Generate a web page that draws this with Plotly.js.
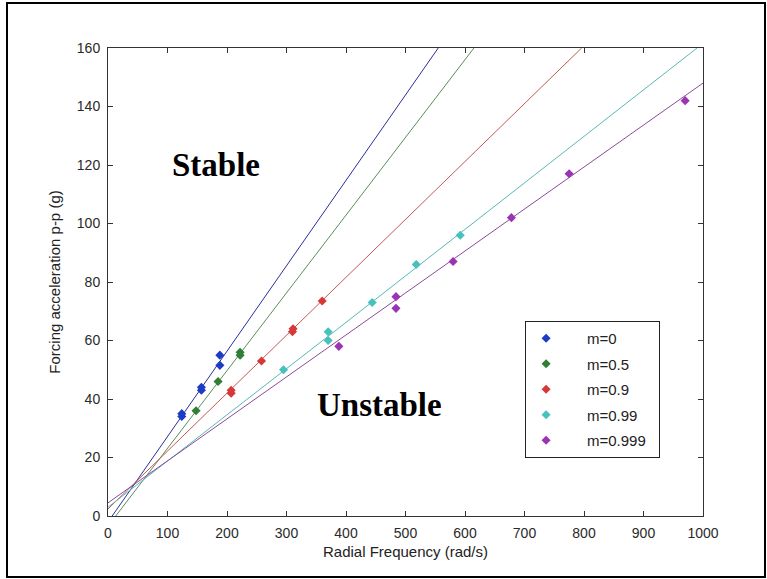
<!DOCTYPE html>
<html>
<head>
<meta charset="utf-8">
<script src="https://cdn.plot.ly/plotly-3.0.1.min.js"></script>
<style>
  html, body { margin: 0; padding: 0; background: #fff; }
  #wrap { position: relative; width: 767px; height: 579px; }
  #chart { width: 767px; height: 579px; }
  #frame { position: absolute; left: 6px; top: 2px; width: 760px; height: 576px; border: 2px solid #000; box-sizing: border-box; pointer-events: none; }
</style>
</head>
<body>
<div id="wrap"><div id="chart"></div><div id="frame"></div></div>
<script>
// measured data points (rad/s, g)
const blueX = [124, 124, 157, 157, 188, 188];
const blueY = [35, 34, 44, 43, 55, 51.5];
const greenX = [148, 185, 222, 222];
const greenY = [36, 46, 56, 55];
const redX = [207, 207, 258, 310, 311, 360];
const redY = [42, 43, 53, 63, 64, 73.5];
const cyanX = [295, 370, 370, 444, 518, 592];
const cyanY = [50, 63, 60, 73, 86, 96];
const purpleX = [388, 484, 484, 580, 678, 775, 970];
const purpleY = [58, 75, 71, 87, 102, 117, 142];

// fitted lines
const blueLineX = [7, 333, 555];
const blueLineY = [0, 95, 160];
const greenLineX = [13, 390, 615];
const greenLineY = [0, 100, 160];
const redLineX = [0, 390, 796];
const redLineY = [2.4, 79.6, 160];
const cyanLineX = [0, 390, 990];
const cyanLineY = [3, 64.6, 160];
const purpleLineX = [0, 390, 1000];
const purpleLineY = [4.5, 60.4, 148];

const names = ['m=0', 'm=0.5', 'm=0.9', 'm=0.99', 'm=0.999'];
const xTicks = [0, 100, 200, 300, 400, 500, 600, 700, 800, 900, 1000];
const yTicks = [0, 20, 40, 60, 80, 100, 120, 140, 160];

const series = [
  {x: blueX, y: blueY, lx: blueLineX, ly: blueLineY, mc: '#1d3cc6', lc: '#2b2f9c'},
  {x: greenX, y: greenY, lx: greenLineX, ly: greenLineY, mc: '#2f7f35', lc: '#5b8d5b'},
  {x: redX, y: redY, lx: redLineX, ly: redLineY, mc: '#d63838', lc: '#c25a55'},
  {x: cyanX, y: cyanY, lx: cyanLineX, ly: cyanLineY, mc: '#47c1bd', lc: '#58b8b3'},
  {x: purpleX, y: purpleY, lx: purpleLineX, ly: purpleLineY, mc: '#9a33b4', lc: '#8b4a9b'}
];

const traces = [];
series.forEach((s, i) => {
  traces.push({
    x: s.lx, y: s.ly, type: 'scatter', mode: 'lines',
    line: {color: s.lc, width: 1}, showlegend: false, hoverinfo: 'skip'
  });
});
series.forEach((s, i) => {
  traces.push({
    x: s.x, y: s.y, type: 'scatter', mode: 'markers',
    name: '\u00a0\u00a0\u00a0\u00a0\u00a0' + names[i] + '\u00a0\u00a0',
    legendgroup: 'g' + i,
    marker: {symbol: 'diamond', size: 7, color: s.mc}
  });
});

const axisFont = {family: 'Liberation Sans, Arial, sans-serif', size: 14, color: '#2a2a2a'};

const layout = {
  width: 767, height: 579,
  margin: {l: 108, r: 64, t: 48, b: 63},
  paper_bgcolor: '#fff', plot_bgcolor: '#fff',
  showlegend: true,
  legend: {
    x: 0.701, y: 0.4167, xanchor: 'left', yanchor: 'top',
    bordercolor: '#222', borderwidth: 1, bgcolor: '#fff',
    font: {family: 'Liberation Sans, Arial, sans-serif', size: 15, color: '#222'},
    tracegroupgap: 3
  },
  xaxis: {
    range: [0, 1000], tickvals: xTicks, ticktext: xTicks.map(String),
    ticks: 'inside', ticklen: 5, tickcolor: '#333', mirror: 'ticks',
    showline: true, linecolor: '#333', linewidth: 1, showgrid: false, zeroline: false,
    tickfont: axisFont, ticklabelstandoff: 4,
    title: {text: 'Radial Frequency (rad/s)', font: {family: 'Liberation Sans, Arial, sans-serif', size: 15, color: '#222'}, standoff: 6}
  },
  yaxis: {
    range: [0, 160], tickvals: yTicks, ticktext: yTicks.map(String),
    ticks: 'inside', ticklen: 5, tickcolor: '#333', mirror: 'ticks',
    showline: true, linecolor: '#333', linewidth: 1, showgrid: false, zeroline: false,
    tickfont: axisFont, ticklabelstandoff: 4,
    title: {text: 'Forcing acceleration p-p (g)', font: {family: 'Liberation Sans, Arial, sans-serif', size: 15, color: '#222'}, standoff: 12}
  },
  annotations: [
    {x: 182, y: 120, xref: 'x', yref: 'y', text: '<b>Stable</b>', showarrow: false,
     font: {family: 'Liberation Serif, serif', size: 33, color: '#000'}},
    {x: 457, y: 38, xref: 'x', yref: 'y', text: '<b>Unstable</b>', showarrow: false,
     font: {family: 'Liberation Serif, serif', size: 33, color: '#000'}}
  ]
};

Plotly.newPlot('chart', traces, layout, {staticPlot: true, displayModeBar: false});
</script>
</body>
</html>
